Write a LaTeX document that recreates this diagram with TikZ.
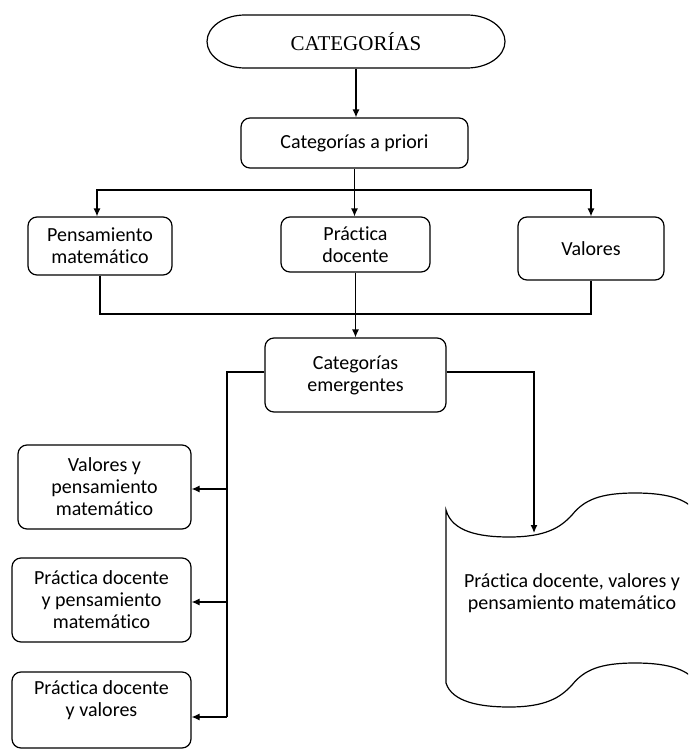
\documentclass[tikz,border=0pt]{standalone}
\usepackage{fontspec}
\setmainfont{Carlito}[Ligatures={NoCommon,NoContextual}]
\newfontfamily\tnr{Liberation Serif}
\usetikzlibrary{arrows.meta}
\begin{document}
\begin{tikzpicture}[x=1pt,y=-1pt, line width=1.2pt,
  box/.style={draw, rounded corners=9pt, align=center, font=\fontsize{20}{22}\selectfont, inner sep=0pt},
  lbl/.style={align=center, font=\fontsize{20}{22}\selectfont, inner sep=0pt},
  arr/.style={-{Latex[length=8pt,width=7pt]}}]
\useasboundingbox (0,0) rectangle (688,752);
\clip (0,0) rectangle (688,752);
% terminal
\node[font=\tnr\fontsize{21}{24}\selectfont, minimum width=298pt, minimum height=53pt, inner sep=0pt] (cat) at (356,41.5) {CATEGORÍAS};
\draw (245,15) -- (467,15) arc[start angle=-90, end angle=90, x radius=38, y radius=26.5]
  -- (245,68) arc[start angle=90, end angle=270, x radius=38, y radius=26.5] -- cycle;
\node[box, minimum width=227pt, minimum height=50pt] (apr) at (354.5,143) {Categorías a priori};
\node[box, minimum width=144pt, minimum height=58pt] (pen) at (100,246) {Pensamiento\\matemático};
\node[box, minimum width=149pt, minimum height=55pt] (pra) at (355.5,244.5) {Práctica\\docente};
\node[box, minimum width=146pt, minimum height=63pt] (val) at (591,248.5) {Valores};
\node[box, minimum width=181pt, minimum height=74pt] (eme) at (355.5,375) {Categorías\\emergentes};
\node[box, minimum width=173pt, minimum height=84pt] (b1) at (104.5,487) {Valores y\\pensamiento\\matemático};
\node[box, minimum width=179pt, minimum height=84pt] (b2) at (101.5,600) {Práctica docente\\y pensamiento\\matemático};
\node[box, minimum width=179pt, minimum height=76pt] (b3) at (101.5,710) {Práctica docente\\y valores\\\mbox{}};
% punched tape
\draw (446,510) .. controls (452,532) and (480,537) .. (509,537)
  .. controls (545,537) and (560,528) .. (572,515)
  .. controls (584,500) and (600,493) .. (635,493)
  .. controls (670,493) and (690,500) .. (698,515)
  -- (698,685)
  .. controls (690,670) and (670,663) .. (635,663)
  .. controls (600,663) and (584,670) .. (572,685)
  .. controls (560,698) and (545,707) .. (509,707)
  .. controls (480,707) and (452,702) .. (446,683) -- cycle;
\node[lbl] (sc) at (572,593) {Práctica docente, valores y\\pensamiento matemático};
% connectors
\draw[arr] (cat.south) -- (cat.south |- apr.north);
\coordinate (j1) at (355,190);
\draw[arr] (apr.south) -- (apr.south |- pra.north);
\draw[arr] (j1) -| ([xshift=-3pt]pen.north);
\draw[arr] (j1) -| (val.north);
\coordinate (j2) at (355,314);
\draw (pen.south) |- (j2) -| (val.south);
\draw[arr] (pra.south) -- (pra.south |- eme.north);
\coordinate (L0) at (227,372);
\coordinate (L1) at (227,489);
\coordinate (L2) at (227,602);
\coordinate (L3) at (227,717);
\draw (eme.west |- L0) -- (L0) -- (L3);
\draw[arr] (L1) -- (L1 -| b1.east);
\draw[arr] (L2) -- (L2 -| b2.east);
\draw[arr] (L3) -- (L3 -| b3.east);
\coordinate (R0) at (534,372);
\coordinate (st) at (534,533);
\draw[arr] (eme.east |- R0) -- (R0) -- (st);
\end{tikzpicture}
\end{document}
